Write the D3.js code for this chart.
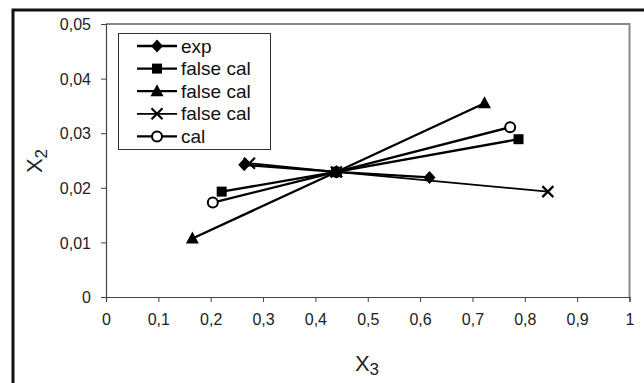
<!DOCTYPE html>
<html>
<head>
<meta charset="utf-8">
<script src="https://cdn.jsdelivr.net/npm/d3@7"></script>
<style>
  body { margin: 0; background: #fff; }
  svg { display: block; font-family: "Liberation Sans", Arial, sans-serif; }
</style>
</head>
<body>
<div id="chart"></div>
<script>
// values
var seriesNames = ["exp", "false cal", "false cal", "false cal", "cal"];
var markers = ["diamond", "square", "triangle", "cross", "circle"];
var x3Values = [
  [0.264, 0.44, 0.618],
  [0.221, 0.44, 0.788],
  [0.165, 0.44, 0.723],
  [0.274, 0.44, 0.844],
  [0.204, 0.44, 0.772]
];
var x2Values = [
  [0.0242, 0.0229, 0.0219],
  [0.0193, 0.0229, 0.0289],
  [0.0107, 0.0229, 0.0355],
  [0.0245, 0.0229, 0.0193],
  [0.0173, 0.0229, 0.0311]
];
var xTicks = [0, 0.1, 0.2, 0.3, 0.4, 0.5, 0.6, 0.7, 0.8, 0.9, 1];
var yTicks = [0, 0.01, 0.02, 0.03, 0.04, 0.05];

var W = 644, H = 383;
var pLeft = 106, pRight = 629.5, pTop = 24, pBottom = 297;

var svg = d3.select("#chart").append("svg")
    .attr("width", W).attr("height", H);

// outer frame (runs off the right and bottom edges)
svg.append("rect")
    .attr("x", 13).attr("y", 10).attr("width", 700).attr("height", 500)
    .attr("fill", "#fff").attr("stroke", "#111").attr("stroke-width", 3);

var x = d3.scaleLinear().domain([0, 1]).range([pLeft, pRight]);
var y = d3.scaleLinear().domain([0, 0.05]).range([pBottom, pTop]);

var comma = function(d) { return d === 0 ? "0" : (d === 1 ? "1" : String(d).replace(".", ",")); };

// plot area: gray top/right border
svg.append("path")
    .attr("d", "M" + pLeft + "," + pTop + "H" + pRight + "V" + pBottom)
    .attr("fill", "none").attr("stroke", "#8a8a8a").attr("stroke-width", 2);

var xAxis = svg.append("g")
    .attr("transform", "translate(0," + pBottom + ")")
    .call(d3.axisBottom(x).tickValues(xTicks).tickFormat(comma).tickSize(5).tickPadding(12));
var yAxis = svg.append("g")
    .attr("transform", "translate(" + pLeft + ",0)")
    .call(d3.axisLeft(y).tickValues(yTicks).tickFormat(comma).tickSize(5).tickPadding(10));

[xAxis, yAxis].forEach(function(a) {
  a.attr("font-size", 16).attr("font-family", "Liberation Sans, Arial, sans-serif");
  a.select(".domain").attr("stroke", "#444").attr("stroke-width", 1.2);
  a.selectAll(".tick line").attr("stroke", "#444");
  a.selectAll(".tick text").attr("fill", "#222");
});
yAxis.selectAll(".tick text").attr("dy", "0.35em");

// axis titles
var xt = svg.append("text").attr("x", 367).attr("y", 371)
    .attr("text-anchor", "middle").attr("font-size", 22).attr("fill", "#222");
xt.append("tspan").text("X");
xt.append("tspan").attr("dy", 4).attr("font-size", 17).text("3");

var yt = svg.append("text")
    .attr("transform", "translate(42,161) rotate(-90)")
    .attr("text-anchor", "middle").attr("font-size", 22).attr("fill", "#222");
yt.append("tspan").text("X");
yt.append("tspan").attr("dy", 5).attr("font-size", 17).text("2");

function drawMarker(g, type, cx, cy) {
  if (type === "diamond") {
    g.append("path").attr("d", "M" + cx + "," + (cy - 6.5) + "L" + (cx + 6) + "," + cy +
      "L" + cx + "," + (cy + 6.5) + "L" + (cx - 6) + "," + cy + "Z").attr("fill", "#000");
  } else if (type === "square") {
    g.append("rect").attr("x", cx - 5).attr("y", cy - 5).attr("width", 10).attr("height", 10)
      .attr("fill", "#000");
  } else if (type === "triangle") {
    g.append("path").attr("d", "M" + cx + "," + (cy - 7) + "L" + (cx + 6.5) + "," + (cy + 5) +
      "L" + (cx - 6.5) + "," + (cy + 5) + "Z").attr("fill", "#000");
  } else if (type === "cross") {
    g.append("path").attr("d", "M" + (cx - 5.5) + "," + (cy - 5.5) + "L" + (cx + 5.5) + "," + (cy + 5.5) +
      "M" + (cx + 5.5) + "," + (cy - 5.5) + "L" + (cx - 5.5) + "," + (cy + 5.5))
      .attr("stroke", "#000").attr("stroke-width", 2.2).attr("fill", "none");
  } else {
    g.append("circle").attr("cx", cx).attr("cy", cy).attr("r", 5)
      .attr("fill", "#fff").attr("stroke", "#000").attr("stroke-width", 2);
  }
}

var line = d3.line().x(function(d) { return x(d[0]); }).y(function(d) { return y(d[1]); });

var seriesPts = seriesNames.map(function(name, i) {
  return x3Values[i].map(function(v, j) { return [v, x2Values[i][j]]; });
});

// lines first, then markers; exp markers on top
seriesPts.forEach(function(pts, i) {
  svg.append("path").attr("d", line(pts)).attr("fill", "none")
    .attr("stroke", "#000").attr("stroke-width", markers[i] === "cross" ? 1.7 : 2.3);
});
var mg = svg.append("g");
[1, 2, 3, 4, 0].forEach(function(i) {
  seriesPts[i].forEach(function(p) { drawMarker(mg, markers[i], x(p[0]), y(p[1])); });
});

// legend
var lg = svg.append("g");
lg.append("rect").attr("x", 118.5).attr("y", 33.5).attr("width", 152).attr("height", 116)
  .attr("fill", "#fff").attr("stroke", "#333").attr("stroke-width", 1);
seriesNames.forEach(function(name, i) {
  var cy = 46 + i * 22.6;
  lg.append("line").attr("x1", 137).attr("x2", 177).attr("y1", cy).attr("y2", cy)
    .attr("stroke", "#000").attr("stroke-width", markers[i] === "cross" ? 1.7 : 2.3);
  drawMarker(lg, markers[i], 157, cy);
  lg.append("text").attr("x", 181).attr("y", cy + 6.5).attr("font-size", 19)
    .attr("fill", "#111").text(name);
});
</script>
</body>
</html>
